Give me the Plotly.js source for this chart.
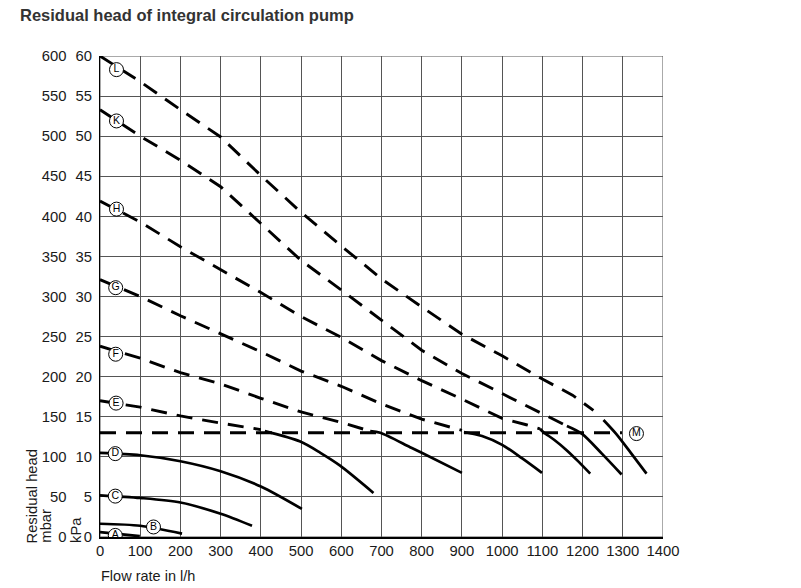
<!DOCTYPE html>
<html>
<head>
<meta charset="utf-8">
<script src="https://cdn.plot.ly/plotly-3.0.1.min.js"></script>
<style>
  html, body { margin: 0; padding: 0; background: #fff; }
  #chart { width: 801px; height: 588px; }
</style>
</head>
<body>
<div id="chart"></div>
<script>
// flow rate in l/h, residual head in mbar
const flowTicks = [0, 100, 200, 300, 400, 500, 600, 700, 800, 900, 1000, 1100, 1200, 1300, 1400];

// dashed parts of the pump curves
const lDashX = [0, 100, 200, 300, 400, 500, 600, 700, 800, 900, 1000, 1100, 1175, 1227];
const lDashY = [600, 568, 533, 499, 451, 405, 363, 322, 287, 253, 226, 197, 177, 158];
const kDashX = [0, 100, 200, 300, 400, 500, 600, 700, 800, 900, 1000, 1070, 1132, 1161];
const kDashY = [533, 500, 470, 437, 391, 345, 308, 270, 233, 204, 179, 162, 146, 138.5];
const hDashX = [0, 100, 200, 300, 400, 500, 600, 700, 800, 900, 1000, 1060, 1094];
const hDashY = [419, 393, 362, 334, 305, 275, 249, 220, 195, 172, 148, 140, 135];
const gDashX = [0, 100, 200, 300, 400, 500, 600, 700, 800, 900];
const gDashY = [321, 300, 276, 254, 231, 207, 188, 166, 147, 133];
const fDashX = [0, 100, 200, 300, 400, 500, 600, 672];
const fDashY = [238, 223, 205, 191, 173, 156, 143, 132];
const eDashX = [0, 100, 200, 300, 400];
const eDashY = [170, 162, 151, 142, 134];
const mX = [0, 1298];
const mY = [130, 130];

// solid parts
const lSolidX = [1252, 1283, 1320, 1359];
const lSolidY = [146, 129, 105, 79];
const kSolidX = [1161, 1198, 1248, 1297];
const kSolidY = [138.5, 129, 104, 78];
const hSolidX = [1094, 1102, 1130, 1161, 1190, 1219];
const hSolidY = [135, 131, 121, 108, 94, 79];
const gSolidX = [905, 950, 1000, 1050, 1099];
const gSolidY = [131, 126, 115, 98, 80];
const fSolidX = [672, 697, 771, 800, 900];
const fSolidY = [132, 130, 112, 105, 80];
const eSolidX = [410, 498, 548, 597, 680];
const eSolidY = [132, 119, 105, 89, 55];
const dX = [0, 100, 200, 300, 400, 502];
const dY = [105, 102, 94.5, 82, 63, 35];
const cX = [0, 100, 200, 300, 378];
const cY = [52, 48.7, 43, 29, 14];
const bX = [0, 100, 204];
const bY = [16.5, 14, 4.2];
const aX = [0, 99];
const aY = [6, 1];

// curve labels
const labelNames = ['L', 'K', 'H', 'G', 'F', 'E', 'D', 'C', 'B', 'A', 'M'];
const labelX = [41, 41, 41, 39, 39, 40, 38, 38, 133, 38, 1334];
const labelY = [583, 519, 409, 311, 228, 167, 104, 51, 12.5, 2, 129];

const FONT = 'Liberation Sans, Arial, sans-serif';
const INK = '#1a1a1a';

function dashed(x, y) {
    return {x: x, y: y, mode: 'lines', hoverinfo: 'skip',
            line: {color: '#000', width: 2.9, dash: '16px,10px'}};
}
function solid(x, y) {
    return {x: x, y: y, mode: 'lines', hoverinfo: 'skip',
            line: {color: '#000', width: 2.7, shape: 'spline', smoothing: 0.8}};
}

let traces = [
    dashed(lDashX, lDashY), dashed(kDashX, kDashY), dashed(hDashX, hDashY),
    dashed(gDashX, gDashY), dashed(fDashX, fDashY), dashed(eDashX, eDashY),
    dashed(mX, mY),
    solid(lSolidX, lSolidY), solid(kSolidX, kSolidY), solid(hSolidX, hSolidY),
    solid(gSolidX, gSolidY), solid(fSolidX, fSolidY), solid(eSolidX, eSolidY),
    solid(dX, dY), solid(cX, cY), solid(bX, bY), solid(aX, aY),
    {
        x: labelX, y: labelY, text: labelNames, mode: 'markers+text',
        textposition: 'middle center', hoverinfo: 'skip',
        textfont: {family: FONT, size: 10.5, color: '#000'},
        marker: {size: 14, color: '#fff', line: {color: '#000', width: 1}},
    },
    // puts the kPa axis on the page
    {x: [], y: [], yaxis: 'y2', mode: 'lines', hoverinfo: 'skip'},
];

let layout = {
    width: 801,
    height: 588,
    margin: {l: 100, r: 138, t: 56, b: 51},
    paper_bgcolor: '#fff',
    plot_bgcolor: '#fff',
    showlegend: false,
    font: {family: FONT, size: 14, color: INK},
    title: {
        text: 'Residual head of integral circulation pump',
        x: 20 / 801, xanchor: 'left', xref: 'container',
        y: 1 - 15 / 588, yanchor: 'middle', yref: 'container',
        font: {family: FONT, size: 16.5, weight: 'bold', color: '#333'},
    },
    xaxis: {
        range: [0, 1400], tickvals: flowTicks, showgrid: true, gridcolor: '#555', gridwidth: 1,
        showline: true, linecolor: '#000', linewidth: 1.5, ticks: '', zeroline: false,
        tickfont: {size: 14.8, color: INK}, fixedrange: true,
    },
    yaxis: {
        range: [0, 600], dtick: 50, tick0: 0, showgrid: true, gridcolor: '#555', gridwidth: 1,
        showline: true, linecolor: '#000', linewidth: 1.5, ticks: '', zeroline: false,
        ticklabelstandoff: 29, tickfont: {size: 14.8, color: INK}, fixedrange: true,
    },
    yaxis2: {
        overlaying: 'y', side: 'left', anchor: 'x',
        range: [0, 60], dtick: 5, tick0: 0, showgrid: false, showline: false,
        ticks: '', zeroline: false, ticklabelstandoff: 7,
        tickfont: {size: 14.8, color: INK}, fixedrange: true,
    },
    shapes: [
        {type: 'rect', xref: 'x', yref: 'y', x0: 0, x1: 1400, y0: 0, y1: 600,
         line: {color: '#555', width: 1}, layer: 'below'},
    ],
    annotations: [
        {text: 'Flow rate in l/h', xref: 'paper', yref: 'paper', x: -0.002, y: -0.082,
         xanchor: 'left', yanchor: 'middle', showarrow: false, font: {size: 14.5, color: INK}},
        {text: 'Residual head', xref: 'paper', yref: 'paper', x: -0.121, y: -0.017,
         xanchor: 'center', yanchor: 'bottom', textangle: -90, showarrow: false,
         font: {size: 14.8, color: INK}},
        {text: 'mbar', xref: 'paper', yref: 'paper', x: -0.095, y: -0.017,
         xanchor: 'center', yanchor: 'bottom', textangle: -90, showarrow: false,
         font: {size: 14.8, color: INK}},
        {text: 'kPa', xref: 'paper', yref: 'paper', x: -0.043, y: -0.017,
         xanchor: 'center', yanchor: 'bottom', textangle: -90, showarrow: false,
         font: {size: 14.8, color: INK}},
    ],
};

Plotly.newPlot('chart', traces, layout, {displayModeBar: false, staticPlot: true});
</script>
</body>
</html>
